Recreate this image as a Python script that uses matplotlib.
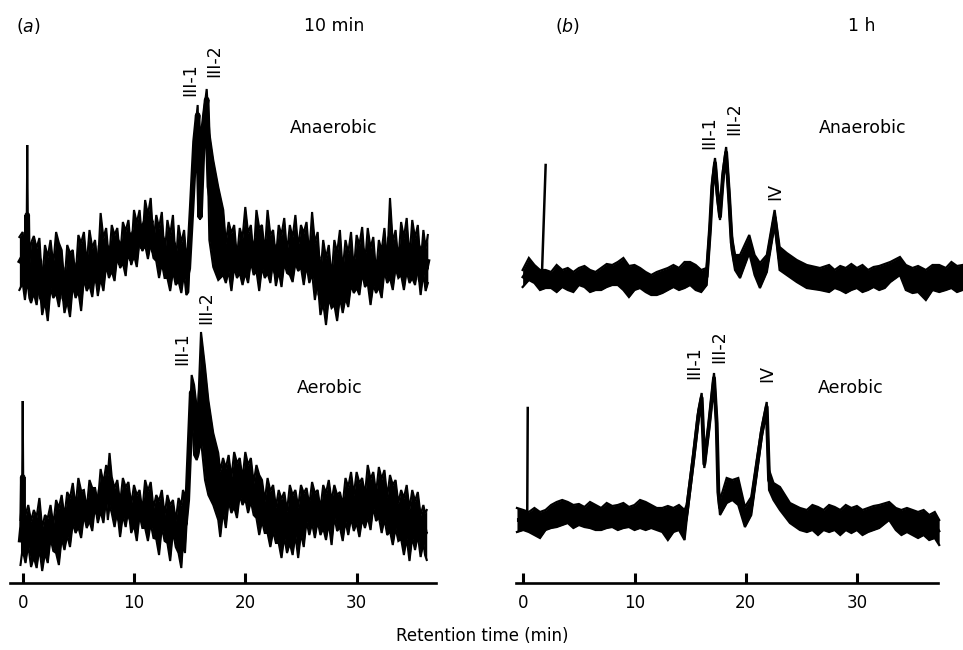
import matplotlib
matplotlib.use("Agg")
import matplotlib.pyplot as plt
import numpy as np

plt.rcParams['font.family'] = ['DejaVu Sans']

# ---------------- data (detector response, arbitrary units) ----------------
# Panel (a) 10 min, Anaerobic : time (min), upper and lower edge of the noisy trace
a_an_t = [-0.3, 0.0, 0.2, 0.35, 0.41, 0.47, 0.6, 0.75,
          1.0, 1.25, 1.5, 1.75, 2.0, 2.25, 2.5, 2.75, 3.0, 3.25, 3.5, 3.75,
          4.0, 4.25, 4.5, 4.75, 5.0, 5.25, 5.5, 5.75, 6.0, 6.25, 6.5, 6.75,
          7.0, 7.25, 7.5, 7.75, 8.0, 8.25, 8.5, 8.75, 9.0, 9.25, 9.5, 9.75,
          10.0, 10.25, 10.5, 10.75, 11.0, 11.25, 11.5, 11.75, 12.0, 12.25, 12.5, 12.75,
          13.0, 13.25, 13.5, 13.75, 14.0, 14.25, 14.5, 14.7,
          14.88, 15.18, 15.48, 15.72, 15.93, 16.23, 16.53, 16.77, 17.12, 17.57, 18.02,
          18.25, 18.5, 18.75, 19.0, 19.25, 19.5, 19.75,
          20.0, 20.25, 20.5, 20.75, 21.0, 21.25, 21.5, 21.75, 22.0, 22.25, 22.5, 22.75,
          23.0, 23.25, 23.5, 23.75, 24.0, 24.25, 24.5, 24.75, 25.0, 25.25, 25.5, 25.75,
          26.0, 26.25, 26.5, 26.75, 27.0, 27.25, 27.5, 27.75, 28.0, 28.25, 28.5, 28.75,
          29.0, 29.25, 29.5, 29.75, 30.0, 30.25, 30.5, 30.75, 31.0, 31.25, 31.5, 31.75,
          32.0, 32.25, 32.5, 32.75, 33.0, 33.25, 33.5, 33.75, 34.0, 34.25, 34.5, 34.75,
          35.0, 35.25, 35.5, 35.75, 36.0, 36.2, 36.4]
a_an_hi = [346, 351, 322, 343, 438, 343, 318, 340,
           347, 335, 345, 300, 338, 326, 343, 318, 351, 340, 333, 298,
           338, 330, 333, 305, 348, 340, 351, 318, 353, 335, 343, 315,
           370, 345, 355, 322, 358, 348, 355, 325, 361, 352, 363, 330,
           373, 360, 373, 340, 383, 368, 385, 340, 368, 355, 371, 325,
           363, 348, 368, 318, 358, 340, 353, 325,
           338, 383, 450, 478, 370, 466, 494, 450, 423, 396, 373,
           340, 361, 350, 358, 325, 355, 345,
           376, 350, 358, 325, 373, 355, 358, 330, 373, 348, 353, 325,
           358, 348, 365, 330, 358, 345, 368, 335, 358, 350, 361, 328,
           371, 340, 351, 308, 343, 325, 338, 305, 343, 330, 353, 312,
           343, 330, 351, 312, 348, 338, 356, 318, 355, 335, 346, 310,
           343, 332, 355, 320, 385, 340, 353, 322, 361, 345, 365, 325,
           363, 345, 358, 318, 353, 335, 348]
a_an_lo = [293, 300, 283, 298, 298, 298, 285, 280,
           290, 278, 300, 268, 282, 262, 295, 285, 290, 276, 298, 270,
           282, 266, 298, 285, 292, 272, 305, 292, 298, 286, 310, 287,
           305, 292, 318, 305, 312, 302, 328, 315, 320, 307, 335, 318,
           328, 316, 342, 332, 338, 324, 340, 325, 322, 305, 320, 305,
           305, 292, 312, 298, 302, 290, 310, 288,
           291, 368, 433, 458, 363, 443, 473, 343, 316, 303, 308,
           300, 312, 292, 316, 305, 310, 298,
           310, 300, 322, 308, 312, 292, 316, 305, 310, 300, 322, 297,
           312, 296, 320, 310, 308, 301, 320, 312, 316, 298, 318, 300,
           310, 283, 302, 268, 280, 258, 285, 275, 278, 262, 286, 270,
           285, 276, 298, 290, 295, 288, 310, 296, 300, 278, 298, 290,
           296, 285, 312, 300, 305, 293, 315, 305, 308, 293, 312, 300,
           305, 298, 316, 288, 310, 292, 300]

# Panel (a) 10 min, Aerobic
a_ae_t = [-0.2, -0.06, 0.0, 0.06, 0.25, 0.5, 0.75,
          1.0, 1.25, 1.5, 1.75, 2.0, 2.25, 2.5, 2.75, 3.0, 3.25, 3.5, 3.75,
          4.0, 4.25, 4.5, 4.75, 5.0, 5.25, 5.5, 5.75, 6.0, 6.25, 6.5, 6.75,
          7.0, 7.25, 7.5, 7.65, 7.8, 8.0, 8.25, 8.5, 8.75, 9.0, 9.25, 9.5, 9.75,
          10.0, 10.25, 10.5, 10.75, 11.0, 11.25, 11.5, 11.75, 12.0, 12.25, 12.5, 12.75,
          13.0, 13.25, 13.5, 13.75, 14.0, 14.25, 14.4,
          14.58, 14.79, 14.97, 15.18, 15.4, 15.63, 15.78, 16.02, 16.38, 16.68, 17.12, 17.57,
          17.75, 18.0, 18.25, 18.5, 18.75, 19.0, 19.25, 19.5, 19.75,
          20.0, 20.25, 20.5, 20.75, 21.0, 21.25, 21.5, 21.75, 22.0, 22.25, 22.5, 22.75,
          23.0, 23.25, 23.5, 23.75, 24.0, 24.25, 24.5, 24.75, 25.0, 25.25, 25.5, 25.75,
          26.0, 26.25, 26.5, 26.75, 27.0, 27.25, 27.5, 27.75, 28.0, 28.25, 28.5, 28.75,
          29.0, 29.25, 29.5, 29.75, 30.0, 30.25, 30.5, 30.75, 31.0, 31.25, 31.5, 31.75,
          32.0, 32.25, 32.5, 32.75, 33.0, 33.25, 33.5, 33.75, 34.0, 34.25, 34.5, 34.75,
          35.0, 35.25, 35.5, 35.75, 36.0, 36.15, 36.3]
a_ae_hi = [63, 83, 182, 83, 68, 78, 62,
           73, 66, 85, 55, 68, 65, 78, 58, 83, 75, 88, 66,
           91, 85, 100, 76, 105, 92, 93, 74, 103, 95, 95, 80,
           114, 100, 118, 108, 130, 106, 95, 103, 80, 105, 96, 101, 78,
           98, 88, 93, 72, 103, 92, 101, 75, 88, 82, 93, 68,
           88, 78, 83, 62, 85, 78, 93,
           88, 93, 150, 208, 198, 176, 180, 251, 216, 183, 150, 130,
           112, 125, 115, 128, 105, 131, 120, 125, 104,
           131, 118, 125, 100, 118, 108, 103, 82, 105, 92, 98, 76,
           93, 84, 91, 72, 98, 88, 93, 76, 98, 90, 95, 78,
           101, 90, 93, 74, 98, 90, 103, 82, 98, 88, 91, 78,
           105, 96, 111, 88, 111, 100, 105, 88, 118, 104, 111, 90,
           116, 104, 113, 86, 108, 98, 103, 80, 93, 85, 98, 74,
           93, 82, 91, 68, 78, 70, 73]
a_ae_lo = [18, 30, 30, 30, 20, 38, 16,
           26, 15, 35, 12, 30, 20, 45, 32, 30, 18, 45, 33,
           48, 36, 60, 50, 56, 45, 68, 55, 62, 52, 78, 60,
           72, 60, 84, 63, 78, 70, 56, 72, 46, 68, 56, 74, 50,
           58, 42, 68, 55, 55, 42, 60, 45, 44, 28, 56, 42,
           40, 22, 52, 36, 30, 15, 40,
           30, 73, 113, 173, 128, 123, 128, 143, 103, 88, 78, 63,
           46, 72, 55, 82, 70, 76, 65, 88, 78,
           84, 70, 82, 68, 65, 48, 62, 50, 50, 36, 52, 40,
           40, 25, 46, 30, 40, 28, 48, 25, 50, 36, 62, 48,
           60, 45, 62, 48, 55, 43, 60, 38, 66, 52, 56, 42,
           62, 48, 65, 52, 60, 46, 64, 55, 66, 53, 76, 62,
           66, 50, 64, 48, 52, 38, 55, 42, 44, 28, 45, 22,
           46, 33, 48, 26, 40, 28, 23]

# Panel (b) 1 h, Anaerobic
b_an_t = [-0.06, 0.5, 1.0, 1.5, 2.0, 2.5, 3.0, 3.5, 4.0, 4.5, 5.0, 5.5, 6.0, 6.5, 7.0,
          7.5, 8.0, 8.5, 9.0, 9.5, 10.0, 10.5, 11.0, 11.5, 12.0, 12.5, 13.0, 13.5, 14.0,
          14.5, 15.0, 15.5, 16.0, 16.49, 16.79, 17.0, 17.24, 17.45, 17.69, 17.96, 18.24,
          18.51, 18.74, 19.04, 19.49, 20.32, 20.8, 21.28, 21.9, 22.6, 23.05, 23.69,
          24.59, 25.49, 26.68, 27.5, 28.0, 28.5, 29.0, 29.5, 30.0, 30.5, 31.0, 31.5,
          32.0, 32.5, 33.0, 33.87, 34.4, 35.0, 35.5, 36.2, 36.8, 37.4, 38.0, 38.5, 39.0, 39.5]
b_an_hi = [313, 325, 318, 313, 313, 311, 318, 313, 315, 311, 315, 317, 313, 311, 315,
           319, 318, 321, 325, 317, 318, 315, 311, 308, 311, 313, 315, 318, 315,
           321, 321, 318, 313, 315, 360, 403, 425, 398, 370, 413, 436,
           393, 348, 328, 328, 348, 328, 320, 328, 373, 336, 330,
           323, 318, 315, 318, 313, 317, 315, 319, 315, 318, 313, 316,
           317, 319, 321, 326, 318, 315, 317, 313, 318, 318, 315, 321, 317, 318]
b_an_lo = [296, 303, 300, 293, 295, 295, 291, 296, 293, 291, 298, 296, 291, 293, 293,
           296, 298, 298, 293, 286, 293, 295, 291, 288, 288, 290, 293, 296, 293,
           295, 298, 293, 291, 298, 348, 391, 415, 383, 363, 401, 425,
           378, 333, 313, 305, 330, 308, 295, 311, 358, 313, 308,
           301, 295, 293, 291, 295, 293, 290, 293, 295, 291, 293, 296,
           293, 295, 301, 308, 293, 290, 291, 283, 293, 291, 293, 295, 291, 293]
b_an_spike_t = [1.65, 2.01]
b_an_spike_h = [300, 418]

# Panel (b) 1 h, Aerobic
b_ae_t = [-0.57, 0.0, 0.5, 1.0, 1.5, 2.0, 2.5, 3.0, 3.5, 4.0, 4.5, 5.0, 5.5, 6.0, 6.5,
          7.0, 7.5, 8.0, 8.5, 9.0, 9.5, 10.0, 10.5, 11.0, 11.5, 12.0, 12.5, 13.0, 13.5,
          14.0, 14.5, 14.69, 15.29, 15.74, 16.04, 16.28, 16.7, 17.15, 17.39, 17.54, 17.69,
          18.29, 18.8, 19.33, 19.93, 20.5, 20.99, 21.44, 21.89, 22.1, 22.5, 23.08, 23.98,
          24.88, 25.5, 26.0, 26.5, 27.0, 27.5, 28.0, 28.5, 29.0, 29.5, 30.0, 30.5, 31.0,
          31.5, 32.0, 32.9, 33.5, 34.0, 34.5, 35.0, 35.5, 36.0, 36.5, 37.0, 37.4]
b_ae_hi = [75, 73, 71, 75, 71, 73, 78, 81, 83, 81, 78, 79, 76, 81, 78,
           75, 80, 77, 78, 80, 76, 78, 83, 81, 78, 75, 75, 77, 75,
           78, 73, 78, 130, 173, 190, 123, 163, 210, 166, 96, 83,
           105, 103, 105, 76, 86, 123, 156, 181, 113, 100, 96, 80,
           75, 73, 78, 76, 73, 78, 76, 73, 78, 75, 77, 73, 75,
           77, 78, 81, 75, 73, 75, 73, 71, 73, 68, 71, 63]
b_ae_lo = [51, 53, 51, 48, 45, 53, 55, 56, 58, 60, 55, 58, 56, 55, 53,
           53, 55, 56, 53, 55, 56, 53, 55, 53, 55, 53, 51, 43, 51,
           53, 43, 63, 118, 161, 180, 115, 153, 200, 153, 86, 68,
           80, 83, 78, 56, 68, 108, 146, 171, 93, 83, 73, 60,
           53, 51, 53, 48, 53, 51, 53, 48, 53, 50, 53, 48, 51,
           53, 55, 63, 53, 48, 51, 48, 45, 48, 43, 45, 38]
b_ae_spike_t = [0.35, 0.40]
b_ae_spike_h = [60, 175]

ticks = [0, 10, 20, 30]
xlabel = "Retention time (min)"

# ---------------- layout ----------------
W, H = 963, 650
fig = plt.figure(figsize=(W / 100, H / 100), dpi=100)
AX_Y = 583  # pixel row of the time axes


def make_axes(x0, x1, zero_px, ppm):
    ax = fig.add_axes([x0 / W, (H - AX_Y) / H, (x1 - x0) / W, AX_Y / H])
    ax.set_xlim((x0 - zero_px) / ppm, (x1 - zero_px) / ppm)
    ax.set_ylim(0, AX_Y)
    for s in ['top', 'right', 'left']:
        ax.spines[s].set_visible(False)
    ax.spines['bottom'].set_linewidth(1.9)
    ax.set_yticks([])
    ax.set_xticks(ticks)
    ax.set_xticklabels([str(t) for t in ticks])
    ax.tick_params(axis='x', direction='in', length=7, width=2.2, pad=8,
                   labelsize=12)
    ax.patch.set_alpha(0)
    return ax


def draw_trace(ax, t, hi, lo, lw=1.0, mid_lw=2.4):
    t = np.asarray(t, float)
    hi = np.asarray(hi, float)
    lo = np.asarray(lo, float)
    ax.fill_between(t, lo, hi, color='black', lw=0, clip_on=False)
    ax.plot(t, hi, color='black', lw=lw, clip_on=False, solid_joinstyle='miter')
    ax.plot(t, lo, color='black', lw=lw, clip_on=False, solid_joinstyle='miter')
    ax.plot(t, (hi + lo) / 2, color='black', lw=mid_lw, clip_on=False,
            solid_capstyle='butt')


ax_a = make_axes(10, 436, 22.7, 11.13)
ax_b = make_axes(516, 938, 523.3, 11.12)

draw_trace(ax_a, a_an_t, a_an_hi, a_an_lo, lw=1.5, mid_lw=4.0)
draw_trace(ax_a, a_ae_t, a_ae_hi, a_ae_lo, lw=1.5, mid_lw=4.0)
draw_trace(ax_b, b_an_t, b_an_hi, b_an_lo, lw=1.6, mid_lw=2.8)
draw_trace(ax_b, b_ae_t, b_ae_hi, b_ae_lo, lw=1.6, mid_lw=2.8)
ax_b.plot(b_an_spike_t, b_an_spike_h, color='black', lw=1.8, clip_on=False)
ax_b.plot(b_ae_spike_t, b_ae_spike_h, color='black', lw=1.8, clip_on=False)

# peak labels
lab_kw = dict(rotation=90, ha='center', va='center', fontsize=12.5)
ax_a.text(15.03, 503, "III-1", **lab_kw)
ax_a.text(17.19, 522, "III-2", **lab_kw)
ax_a.text(14.31, 234, "III-1", **lab_kw)
ax_a.text(16.47, 275, "III-2", **lab_kw)
ax_b.text(16.70, 450, "III-1", **lab_kw)
ax_b.text(18.95, 464, "III-2", **lab_kw)
ax_b.text(22.64, 392, "IV", **lab_kw)
ax_b.text(15.35, 220, "III-1", **lab_kw)
ax_b.text(17.60, 236, "III-2", **lab_kw)
ax_b.text(21.90, 209, "IV", **lab_kw)

# condition labels
cond_kw = dict(ha='center', va='center', fontsize=12.5)
ax_a.text(0.76, 0.78, "Anaerobic", transform=ax_a.transAxes, **cond_kw)
ax_a.text(0.75, 0.335, "Aerobic", transform=ax_a.transAxes, **cond_kw)
ax_b.text(0.822, 0.78, "Anaerobic", transform=ax_b.transAxes, **cond_kw)
ax_b.text(0.794, 0.335, "Aerobic", transform=ax_b.transAxes, **cond_kw)

# panel headings
fig.text(28 / W, 1 - 26 / H, r"($\mathit{a}$)", ha='center', va='center', fontsize=12.5)
fig.text(334 / W, 1 - 26 / H, "10 min", ha='center', va='center', fontsize=12.5)
fig.text(568 / W, 1 - 26 / H, r"($\mathit{b}$)", ha='center', va='center', fontsize=12.5)
fig.text(862 / W, 1 - 26 / H, "1 h", ha='center', va='center', fontsize=12.5)
fig.text(482 / W, 1 - 636 / H, xlabel, ha='center', va='center', fontsize=12)

fig.savefig("out.png", dpi=100)
